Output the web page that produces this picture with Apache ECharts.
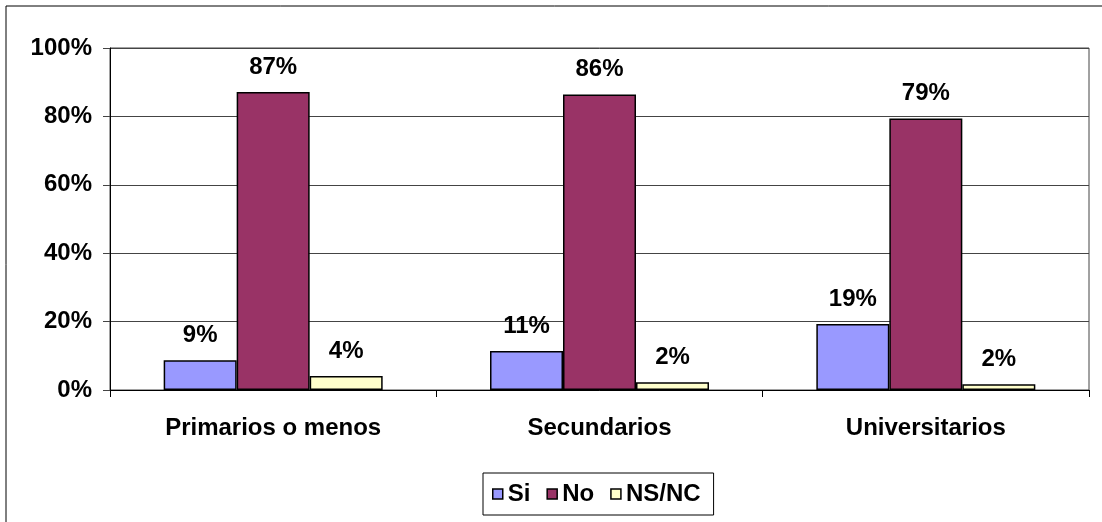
<!DOCTYPE html>
<html>
<head>
<meta charset="utf-8">
<script src="https://cdn.jsdelivr.net/npm/echarts@6/dist/echarts.min.js"></script>
<style>
html,body{margin:0;padding:0;background:#fff;}
#c{width:1102px;height:522px;}
</style>
</head>
<body>
<div id="c"></div>
<script>
const categories = ['Primarios o menos', 'Secundarios', 'Universitarios'];
const si = [8.7, 11.4, 19.3];
const no = [87.1, 86.4, 79.4];
const nsnc = [4.1, 2.3, 1.7];
const yTicks = [0, 20, 40, 60, 80, 100];

const FONT = '"Liberation Sans", Arial, sans-serif';
const FS = 24;
const chart = echarts.init(document.getElementById('c'));

function barSeries(name, data, color) {
  return {
    name: name,
    type: 'bar',
    data: data,
    barWidth: 73,
    barGap: '0%',
    itemStyle: { color: color, borderColor: '#000', borderWidth: 1.5 },
    label: {
      show: true,
      position: 'top',
      distance: 13,
      formatter: p => Math.round(p.value) + '%',
      fontFamily: FONT,
      fontWeight: 'bold',
      fontSize: FS,
      color: '#000'
    }
  };
}

chart.setOption({
  animation: false,
  backgroundColor: '#fff',
  graphic: [{
    type: 'rect',
    shape: { x: 6, y: 6, width: 1120, height: 540 },
    style: { fill: 'none', stroke: '#000', lineWidth: 1 },
    silent: true
  }],
  grid: {
    left: 110, right: 13, top: 48, bottom: 132,
    show: true, borderColor: '#444', borderWidth: 1, backgroundColor: 'transparent'
  },
  legend: {
    data: ['Si', 'No', 'NS/NC'],
    top: 473,
    left: 483,
    icon: 'rect',
    itemWidth: 10,
    itemHeight: 10,
    itemGap: 16,
    padding: [9, 13, 9, 9],
    borderColor: '#000',
    borderWidth: 1,
    itemStyle: { borderColor: '#000', borderWidth: 1.5 },
    textStyle: { fontFamily: FONT, fontWeight: 'bold', fontSize: FS, color: '#000', padding: [0, 0, 0, 0] }
  },
  xAxis: {
    type: 'category',
    data: categories,
    boundaryGap: true,
    axisLine: { show: true, lineStyle: { color: '#000', width: 1 } },
    axisTick: { show: true, alignWithLabel: false, length: 7, lineStyle: { color: '#000' } },
    axisLabel: { margin: 26, fontFamily: FONT, fontWeight: 'bold', fontSize: FS, color: '#000' }
  },
  yAxis: {
    type: 'value',
    min: yTicks[0],
    max: yTicks[yTicks.length - 1],
    interval: 20,
    axisLine: { show: true, lineStyle: { color: '#000', width: 1 } },
    axisTick: { show: true, length: 7, lineStyle: { color: '#444' } },
    splitLine: { show: true, lineStyle: { color: '#444', width: 1 } },
    axisLabel: { margin: 18, formatter: '{value}%', fontFamily: FONT, fontWeight: 'bold', fontSize: FS, color: '#000' }
  },
  series: [
    barSeries('Si', si, '#9999FF'),
    barSeries('No', no, '#993366'),
    barSeries('NS/NC', nsnc, '#FFFFCC')
  ]
});
</script>
</body>
</html>
